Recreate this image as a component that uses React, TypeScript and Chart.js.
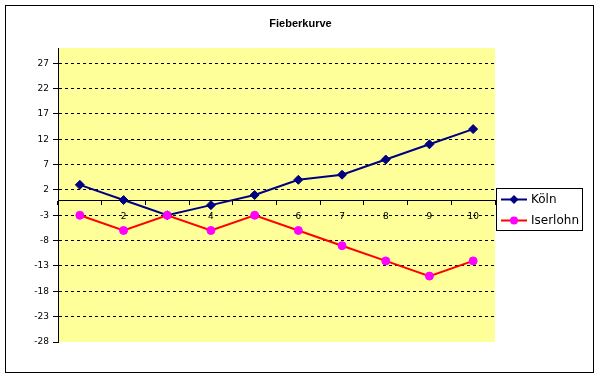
import React, { useEffect, useRef } from "react";
import { Chart, registerables } from "chart.js";

Chart.register(...registerables);

const chartTitle = "Fieberkurve";
const categories = ["1", "2", "3", "4", "5", "6", "7", "8", "9", "10"];
const seriesNames = ["Köln", "Iserlohn"];
const koelnValues = [3, 0, -3, -1, 1, 4, 5, 8, 11, 14];
const iserlohnValues = [-3, -6, -3, -6, -3, -6, -9, -12, -15, -12];
const yTickValues = [-28, -23, -18, -13, -8, -3, 2, 7, 12, 17, 22, 27];

const tickFont = { family: "'DejaVu Sans', sans-serif", size: 9 };

const framePlugin = {
  id: "frame",
  beforeDraw(chart: any) {
    const { ctx, chartArea: a } = chart;
    ctx.save();
    ctx.fillStyle = "#ffffff";
    ctx.fillRect(0, 0, chart.width, chart.height);
    ctx.strokeStyle = "#000000";
    ctx.lineWidth = 1;
    ctx.strokeRect(5.5, 5.5, 588, 367);
    ctx.fillStyle = "#FFFF99";
    ctx.fillRect(a.left, a.top, a.right - a.left, a.bottom - a.top);
    ctx.fillStyle = "#000000";
    ctx.font = "bold 11px 'Liberation Sans', Arial, sans-serif";
    ctx.textAlign = "center";
    ctx.textBaseline = "middle";
    ctx.fillText(chartTitle, 300.5, 23.5);
    ctx.restore();
  },
  afterDraw(chart: any) {
    const { ctx } = chart;
    ctx.save();
    ctx.fillStyle = "#ffffff";
    ctx.fillRect(496.5, 188.5, 86, 42);
    ctx.strokeStyle = "#000000";
    ctx.lineWidth = 1;
    ctx.strokeRect(496.5, 188.5, 86, 42);
    chart.data.datasets.forEach((ds: any, i: number) => {
      const y = 199.5 + i * 21;
      ctx.strokeStyle = ds.borderColor;
      ctx.lineWidth = 2;
      ctx.beginPath();
      ctx.moveTo(501, y);
      ctx.lineTo(527, y);
      ctx.stroke();
      ctx.fillStyle = ds.pointBackgroundColor;
      ctx.beginPath();
      if (ds.pointStyle === "rectRot") {
        const r = 4.5;
        ctx.moveTo(514, y - r);
        ctx.lineTo(514 + r, y);
        ctx.lineTo(514, y + r);
        ctx.lineTo(514 - r, y);
        ctx.closePath();
      } else {
        ctx.arc(514, y, 4, 0, Math.PI * 2);
      }
      ctx.fill();
      ctx.fillStyle = "#000000";
      ctx.font = "12px 'DejaVu Sans'";
      ctx.textBaseline = "middle";
      ctx.textAlign = "left";
      ctx.fillText(ds.label, 531, y + 0.5);
    });
    ctx.restore();
  },
};

export default function App() {
  const ref = useRef<HTMLCanvasElement>(null);

  useEffect(() => {
    if (!ref.current) return;
    const chart = new Chart(ref.current, {
      type: "line",
      data: {
        labels: categories,
        datasets: [
          {
            label: seriesNames[0],
            data: koelnValues,
            borderColor: "#000080",
            backgroundColor: "#000080",
            pointBackgroundColor: "#000080",
            pointBorderColor: "#000080",
            borderWidth: 2,
            pointStyle: "rectRot",
            pointRadius: 4.5,
            pointBorderWidth: 1,
            tension: 0,
            order: 1,
          },
          {
            label: seriesNames[1],
            data: iserlohnValues,
            borderColor: "#FF0000",
            backgroundColor: "#FF00FF",
            pointBackgroundColor: "#FF00FF",
            pointBorderColor: "#FF00FF",
            borderWidth: 2,
            pointStyle: "circle",
            pointRadius: 4,
            pointBorderWidth: 1,
            tension: 0,
            order: 0,
          },
        ] as any,
      },
      options: {
        responsive: false,
        animation: false,
        events: [],
        layout: { padding: { left: 10, right: 106, top: 48, bottom: 37 } },
        plugins: {
          legend: { display: false },
          tooltip: { enabled: false },
          title: { display: false },
        },
        scales: {
          x: {
            type: "category",
            position: { y: 0 } as any,
            offset: true,
            z: 1,
            grid: {
              display: true,
              drawOnChartArea: false,
              drawTicks: true,
              tickLength: 4,
              offset: true,
              color: "#000000",
              tickColor: "#000000",
            },
            border: { display: true, color: "#000000", width: 1 },
            ticks: {
              color: "#000000",
              font: tickFont,
              padding: 7,
              maxRotation: 0,
              autoSkip: false,
            },
          },
          y: {
            type: "linear",
            min: -28,
            max: 30,
            afterBuildTicks: (s: any) => {
              s.ticks = yTickValues.map((v) => ({ value: v }));
            },
            afterFit: (s: any) => {
              s.width = 48;
            },
            grid: {
              color: (c: any) =>
                c.tick && c.tick.value === yTickValues[0] ? "rgba(0,0,0,0)" : "#000000",
              tickColor: "#000000",
              tickLength: 5,
              tickBorderDash: [],
              lineWidth: 1,
            } as any,
            border: { display: true, color: "#000000", width: 1, dash: [3, 3] },
            ticks: {
              color: "#000000",
              font: tickFont,
              padding: 4,
              callback: (v: any) => String(v),
            },
          },
        },
      },
      plugins: [framePlugin],
    });
    return () => chart.destroy();
  }, []);

  return (
    <div style={{ position: "absolute", left: 0, top: 0, width: 601, height: 379 }}>
      <canvas ref={ref} width={601} height={379} />
    </div>
  );
}
